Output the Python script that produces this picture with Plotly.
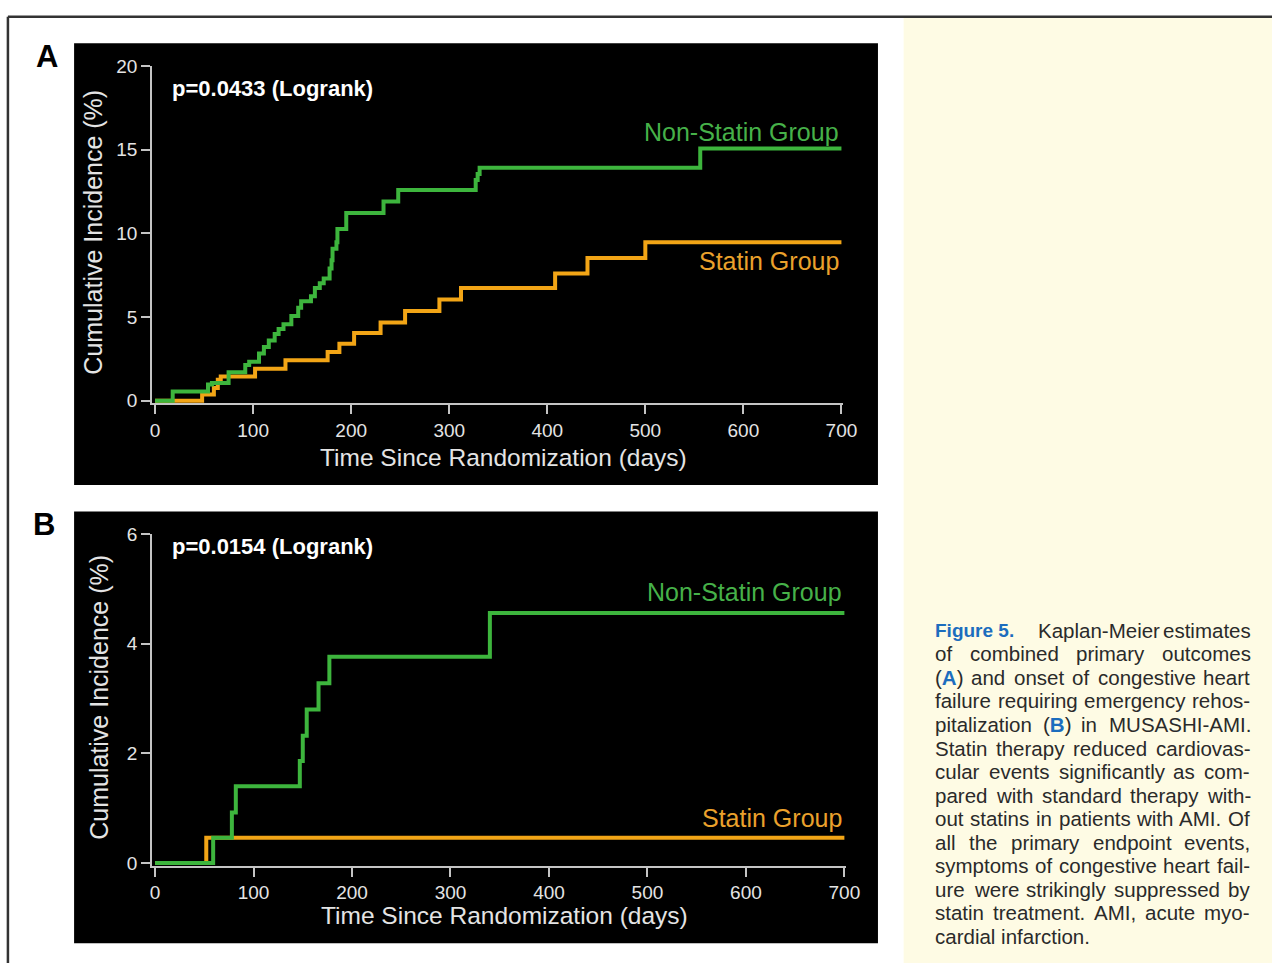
import re
import plotly.graph_objects as go

W, H = 1286, 971
FONT = "Liberation Sans, Arial, Helvetica, sans-serif"
GREEN = "#3DB53D"
ORANGE = "#F2A516"
GREEN_TXT = "#46B149"
ORANGE_TXT = "#EAA12C"
AXIS = "#C4C4C4"
TICK_TXT = "#E4E4E4"
BLUE = "#1C6DBE"
CAPTION_TXT = "#2A2A2A"

# ---- Panel A: combined primary outcomes (cumulative incidence, %) ----
a_days_nonstatin = [0, 18, 54, 58, 75, 92, 96, 106, 111, 116, 122, 126, 131, 139, 146, 149,
                    159, 163, 168, 172, 178, 180, 181, 185, 186, 195, 233, 248, 327, 329, 331, 556, 700]
a_pct_nonstatin = [0, 0.55, 0.96, 1.06, 1.70, 2.13, 2.33, 2.82, 3.20, 3.60, 3.99, 4.28, 4.57, 5.06, 5.55, 5.94,
                   6.24, 6.73, 7.02, 7.30, 7.90, 8.39, 9.07, 9.46, 10.25, 11.22, 11.90, 12.59, 13.18, 13.55, 13.92, 15.07, 15.07]
a_days_statin = [0, 48, 60, 64, 67, 102, 133, 176, 188, 203, 230, 255, 290, 312, 408, 441, 500, 700]
a_pct_statin = [0, 0.37, 0.76, 1.25, 1.45, 1.90, 2.42, 2.91, 3.40, 4.05, 4.67, 5.36, 6.04, 6.73, 7.60, 8.52, 9.46, 9.46]
a_pvalue = "p=0.0433 (Logrank)"
a_y_ticks = [0, 5, 10, 15, 20]

# ---- Panel B: congestive heart failure requiring rehospitalization ----
b_days_nonstatin = [0, 59, 78, 82, 147, 150, 154, 166, 177, 340, 700]
b_pct_nonstatin = [0, 0.46, 0.92, 1.40, 1.86, 2.32, 2.80, 3.28, 3.76, 4.56, 4.56]
b_days_statin = [0, 52, 700]
b_pct_statin = [0, 0.46, 0.46]
b_pvalue = "p=0.0154 (Logrank)"
b_y_ticks = [0, 2, 4, 6]

x_ticks = [0, 100, 200, 300, 400, 500, 600, 700]
group_names = ["Non-Statin Group", "Statin Group"]
x_title = "Time Since Randomization (days)"
y_title = "Cumulative Incidence (%)"

caption_lines = [
    "<b>Figure\u00a05.</b> Kaplan-Meier estimates",
    "of combined primary outcomes",
    "(<b>A</b>) and onset of congestive heart",
    "failure requiring emergency rehos-",
    "pitalization (<b>B</b>) in MUSASHI-AMI.",
    "Statin therapy reduced cardiovas-",
    "cular events significantly as com-",
    "pared with standard therapy with-",
    "out statins in patients with AMI. Of",
    "all the primary endpoint events,",
    "symptoms of congestive heart fail-",
    "ure were strikingly suppressed by",
    "statin treatment. AMI, acute myo-",
    "cardial infarction.",
]


def px(x):
    return x / W


def py(y):
    return 1 - y / H


fig = go.Figure()

# step curves (orange under green)
for days, pct, color, xa, ya in [
    (a_days_statin, a_pct_statin, ORANGE, "x", "y"),
    (a_days_nonstatin, a_pct_nonstatin, GREEN, "x", "y"),
    (b_days_statin, b_pct_statin, ORANGE, "x2", "y2"),
    (b_days_nonstatin, b_pct_nonstatin, GREEN, "x2", "y2"),
]:
    fig.add_trace(go.Scatter(x=days, y=pct, mode="lines", xaxis=xa, yaxis=ya,
                             line=dict(shape="hv", color=color, width=4),
                             showlegend=False, hoverinfo="skip"))

axis_common = dict(ticks="outside", ticklen=9, tickwidth=2, tickcolor=AXIS,
                   showline=True, linecolor=AXIS, linewidth=2, showgrid=False,
                   zeroline=False, tickfont=dict(family=FONT, size=19, color=TICK_TXT))

fig.update_layout(
    width=W, height=H,
    margin=dict(l=0, r=0, t=0, b=0),
    paper_bgcolor="white",
    plot_bgcolor="rgba(0,0,0,0)",
    showlegend=False,
    xaxis=dict(domain=[px(152), px(852)], range=[-3, 702], anchor="y",
               tickvals=x_ticks, **axis_common),
    yaxis=dict(domain=[py(400.6), py(57)], range=[-0.15, 20], anchor="x",
               tickvals=a_y_ticks, **axis_common),
    xaxis2=dict(domain=[px(152), px(855)], range=[-3, 702], anchor="y2",
                tickvals=x_ticks, **axis_common),
    yaxis2=dict(domain=[py(871.8), py(534)], range=[-0.05, 6], anchor="x2",
                tickvals=b_y_ticks, **axis_common),
)

shapes = [
    # caption panel
    dict(type="rect", xref="paper", yref="paper", x0=px(913), x1=1, y0=0, y1=py(8),
         fillcolor="#FEFBE4", line=dict(width=0), layer="below"),
    # black chart panels
    dict(type="rect", xref="paper", yref="paper", x0=px(73), x1=px(887), y0=py(484), y1=py(34),
         fillcolor="black", line=dict(width=0), layer="below"),
    dict(type="rect", xref="paper", yref="paper", x0=px(73), x1=px(887), y0=py(951), y1=py(511),
         fillcolor="black", line=dict(width=0), layer="below"),
    # frame
    dict(type="line", xref="paper", yref="paper", x0=px(6), x1=1, y0=py(7), y1=py(7),
         line=dict(color="#333333", width=2.5)),
    dict(type="line", xref="paper", yref="paper", x0=px(6), x1=px(6), y0=py(7), y1=0,
         line=dict(color="#333333", width=2.5)),
]
fig.update_layout(shapes=shapes)

ann = []


def text(x, y, s, size, color, xanchor="center", bold=False, angle=0, family=FONT):
    ann.append(dict(xref="paper", yref="paper", x=px(x), y=py(y), text=f"<b>{s}</b>" if bold else s,
                    showarrow=False, xanchor=xanchor, yanchor="middle", textangle=angle,
                    borderpad=0, borderwidth=0,
                    font=dict(family=family, size=size, color=color)))


# panel letters
text(46, 47, "A", 31, "black", bold=True)
text(43, 524, "B", 31, "black", bold=True)

# panel A texts
text(172, 80, a_pvalue, 22, "white", xanchor="left", bold=True)
text(848, 124, group_names[0], 25, GREEN_TXT, xanchor="right")
text(848, 256, group_names[1], 25, ORANGE_TXT, xanchor="right")
text(92, 226, y_title, 25, TICK_TXT, angle=-90)
text(508, 456, x_title, 24.5, TICK_TXT)

# panel B texts
text(172, 547, b_pvalue, 22, "white", xanchor="left", bold=True)
text(851, 593, group_names[0], 25, GREEN_TXT, xanchor="right")
text(851, 823, group_names[1], 25, ORANGE_TXT, xanchor="right")
text(98, 700, y_title, 25, TICK_TXT, angle=-90)
text(509, 923, x_title, 24.5, TICK_TXT)

# approximate Helvetica/Arial advance widths (per 1000 em) for the justified caption
CW = {" ": 278, "(": 333, ")": 333, ",": 278, "-": 333, ".": 278, "\u00a0": 278,
      "A": 667, "B": 667, "F": 611, "I": 278, "K": 667, "M": 833, "O": 778, "S": 667, "U": 722, "H": 722,
      "a": 556, "b": 556, "c": 500, "d": 556, "e": 556, "f": 278, "g": 556, "h": 556, "i": 222,
      "j": 222, "k": 500, "l": 222, "m": 833, "n": 556, "o": 556, "p": 556, "q": 556, "r": 333,
      "s": 500, "t": 278, "u": 556, "v": 500, "w": 722, "x": 500, "y": 500, "z": 500, "5": 556}
CAP_SIZE = 20.5
LABEL_SIZE = 19
CAP_LEFT, CAP_RIGHT = 945, 1263


def word_width(w):
    plain = re.sub(r"<[^>]+>", "", w)
    return sum(CW.get(c, 556) for c in plain) * CAP_SIZE / 1000


def styled(w):
    return w.replace("<b>", f"<b><span style='color:{BLUE}'>").replace("</b>", "</span></b>")


for i, line in enumerate(caption_lines):
    y = 632 + 24 * i
    words = line.split(" ")
    last = i == len(caption_lines) - 1
    widths = [word_width(w) for w in words]
    sizes = [CAP_SIZE] * len(words)
    if i == 0:
        # bold figure label is set slightly smaller, followed by a wide space
        sizes[0] = LABEL_SIZE
        widths[0] = 80 + 20
    if last:
        text(CAP_LEFT, y, styled(line), CAP_SIZE, CAPTION_TXT, xanchor="left")
        continue
    gap = (CAP_RIGHT - CAP_LEFT - sum(widths)) / (len(words) - 1)
    xpos = CAP_LEFT
    for j, w in enumerate(words):
        if j == len(words) - 1:
            xpos = CAP_RIGHT - widths[j]
        text(xpos, y, styled(w), sizes[j], CAPTION_TXT, xanchor="left")
        xpos += widths[j] + gap

fig.update_layout(annotations=ann)
fig.write_html("out.html")
